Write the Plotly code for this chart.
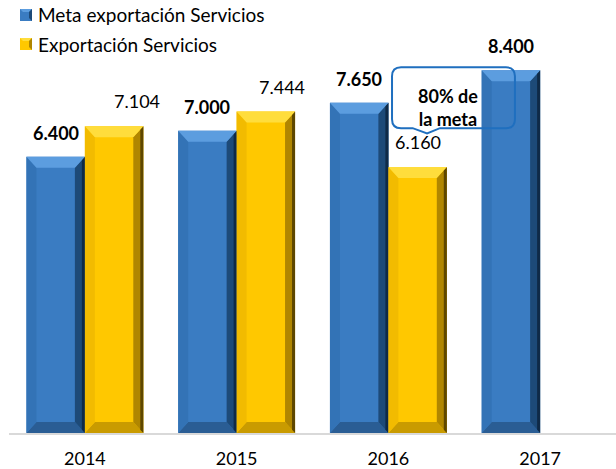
import plotly.graph_objects as go

years = ["2014", "2015", "2016", "2017"]
meta = [6.400, 7.000, 7.650, 8.400]
export = [7.104, 7.444, 6.160, None]
meta_labels = ["6.400", "7.000", "7.650", "8.400"]
export_labels = ["7.104", "7.444", "6.160", None]
export_label_xshift = [23, 16, 0, 0]
series_names = ["Meta exportación Servicios", "Exportación Servicios"]
callout_text = "80% de<br>la meta"

W, H = 616, 469
ML, MR, MT, MB = 9, 0, 0, 36
PX_PER_UNIT = 43.18
YMAX = (H - MT - MB) / PX_PER_UNIT
XPX = (W - ML - MR) / 4.0

BW = 0.385  # bar width in category units
FONT = "Lato"

BLUE = "#3a7cc2"
BLUE_TOP = "#5c9ddf"
BLUE_RIGHT = "#1d4a78"
BLUE_EDGE = "#0f2a47"
BLUE_LEFT = "#3373b6"
BLUE_BOT = "#2a5d94"
YEL = "#ffc800"
YEL_TOP = "#ffdd3c"
YEL_RIGHT = "#b08600"
YEL_EDGE = "#5e4700"
YEL_LEFT = "#f2bb00"
YEL_BOT = "#c99b00"

xs = list(range(len(years)))

fig = go.Figure()
fig.add_trace(go.Bar(
    x=xs, y=meta, width=BW, offset=-BW, name=series_names[0],
    marker=dict(color=BLUE, line=dict(width=0)),
))
fig.add_trace(go.Bar(
    x=xs, y=export, width=BW, offset=0, name=series_names[1],
    marker=dict(color=YEL, line=dict(width=0)),
))

shapes = []
bx = 10 / XPX
by = 11 / PX_PER_UNIT
ex = 3 / XPX


def poly(pts, col, xref="x", yref="y"):
    d = "M " + " L ".join(f"{a},{b}" for a, b in pts) + " Z"
    return dict(type="path", path=d, xref=xref, yref=yref,
                fillcolor=col, line=dict(width=0), layer="above")


def bevel(x0, x1, v, top, right, edge, left, bot):
    out = []
    out.append(poly([(x0, 0), (x1, 0), (x1 - bx, by), (x0 + bx, by)], bot))
    out.append(poly([(x0, v), (x0 + bx, v - by), (x0 + bx, by), (x0, 0)], left))
    out.append(poly([(x1, v), (x1, 0), (x1 - bx, by), (x1 - bx, v - by)], right))
    out.append(poly([(x1, v), (x1, 0), (x1 - ex, by * ex / bx), (x1 - ex, v - by * ex / bx)], edge))
    out.append(poly([(x0, v), (x1, v), (x1 - bx, v - by), (x0 + bx, v - by)], top))
    return out


for i, v in enumerate(meta):
    shapes += bevel(i - BW, i, v, BLUE_TOP, BLUE_RIGHT, BLUE_EDGE, BLUE_LEFT, BLUE_BOT)
for i, v in enumerate(export):
    if v is not None:
        shapes += bevel(i, i + BW, v, YEL_TOP, YEL_RIGHT, YEL_EDGE, YEL_LEFT, YEL_BOT)

# callout box (rounded rectangle with pointer), anchored near 2016 export bar
cx0, cx1 = 2.024, 2.834
cy0, cy1 = 7.06, 8.47
rx = 9 / XPX
ry = 9 / PX_PER_UNIT
px0, px1, ptx, pty = 2.16, 2.34, 2.255, 6.94
path = (
    f"M {cx0 + rx},{cy1} L {cx1 - rx},{cy1} Q {cx1},{cy1} {cx1},{cy1 - ry} "
    f"L {cx1},{cy0 + ry} Q {cx1},{cy0} {cx1 - rx},{cy0} "
    f"L {px1},{cy0} L {ptx},{pty} L {px0},{cy0} "
    f"L {cx0 + rx},{cy0} Q {cx0},{cy0} {cx0},{cy0 + ry} "
    f"L {cx0},{cy1 - ry} Q {cx0},{cy1} {cx0 + rx},{cy1} Z"
)
shapes.append(dict(type="path", path=path, xref="x", yref="y",
                   line=dict(color="#1f6fbf", width=2), fillcolor="rgba(0,0,0,0)",
                   layer="above"))

annotations = []
for i, (v, t) in enumerate(zip(meta, meta_labels)):
    annotations.append(dict(x=i - BW / 2, y=v, text=f"<b>{t}</b>", showarrow=False,
                            xref="x", yref="y", yshift=24, yanchor="middle",
                            font=dict(family=FONT, size=18, color="#000")))
for i, (v, t) in enumerate(zip(export, export_labels)):
    if v is not None:
        annotations.append(dict(x=i + BW / 2, y=v, text=t, showarrow=False,
                                xref="x", yref="y", yshift=25, xshift=export_label_xshift[i],
                                yanchor="middle",
                                font=dict(family=FONT, size=18, color="#000")))
annotations.append(dict(x=2.39, y=7.53, text=f"<b>{callout_text}</b>", showarrow=False,
                        xref="x", yref="y", align="center",
                        font=dict(family=FONT, size=18, color="#000")))

# custom legend (paper coords)
PW = W - ML - MR
PH = H - MT - MB


def px2paper(px, py):
    return (px - ML) / PW, 1 - (py - MT) / PH


leg_items = [(series_names[0], BLUE, BLUE_TOP, BLUE_RIGHT, 15),
             (series_names[1], YEL, YEL_TOP, YEL_RIGHT, 44)]
for name, col, ctop, cright, cy in leg_items:
    x0, y0 = px2paper(20, cy + 6)
    x1, y1 = px2paper(32, cy - 6)
    shapes.append(dict(type="rect", xref="paper", yref="paper", x0=x0, x1=x1, y0=y0, y1=y1,
                       fillcolor=col, line=dict(width=0), layer="above"))
    dx = 3 / PW
    dy = 3 / PH
    shapes.append(poly([(x0, y1), (x1, y1), (x1 - dx, y1 - dy), (x0 + dx, y1 - dy)], ctop, "paper", "paper"))
    shapes.append(poly([(x1, y1), (x1, y0), (x1 - dx, y0 + dy), (x1 - dx, y1 - dy)], cright, "paper", "paper"))
    tx, ty = px2paper(36, cy)
    annotations.append(dict(x=tx, y=ty, xref="paper", yref="paper", text=name,
                            showarrow=False, xanchor="left", yanchor="middle",
                            font=dict(family=FONT, size=19, color="#000")))

fig.update_layout(
    width=W, height=H,
    margin=dict(l=ML, r=MR, t=MT, b=MB),
    paper_bgcolor="white", plot_bgcolor="white",
    barmode="overlay",
    showlegend=False,
    hovermode=False,
    xaxis=dict(range=[-0.5, 3.5], tickvals=xs, ticktext=years,
               showline=True, linecolor="#d9d9d9", linewidth=2,
               ticks="outside", ticklen=8, tickcolor="rgba(0,0,0,0)",
               showgrid=False, zeroline=False, automargin=False,
               tickfont=dict(family=FONT, size=18, color="#000")),
    yaxis=dict(range=[0, YMAX], visible=False, showgrid=False, zeroline=False),
    shapes=shapes,
    annotations=annotations,
)

fig.write_html("out.html", config={"displayModeBar": False},
               post_script="document.body.style.margin='0';document.body.style.overflow='hidden';")
